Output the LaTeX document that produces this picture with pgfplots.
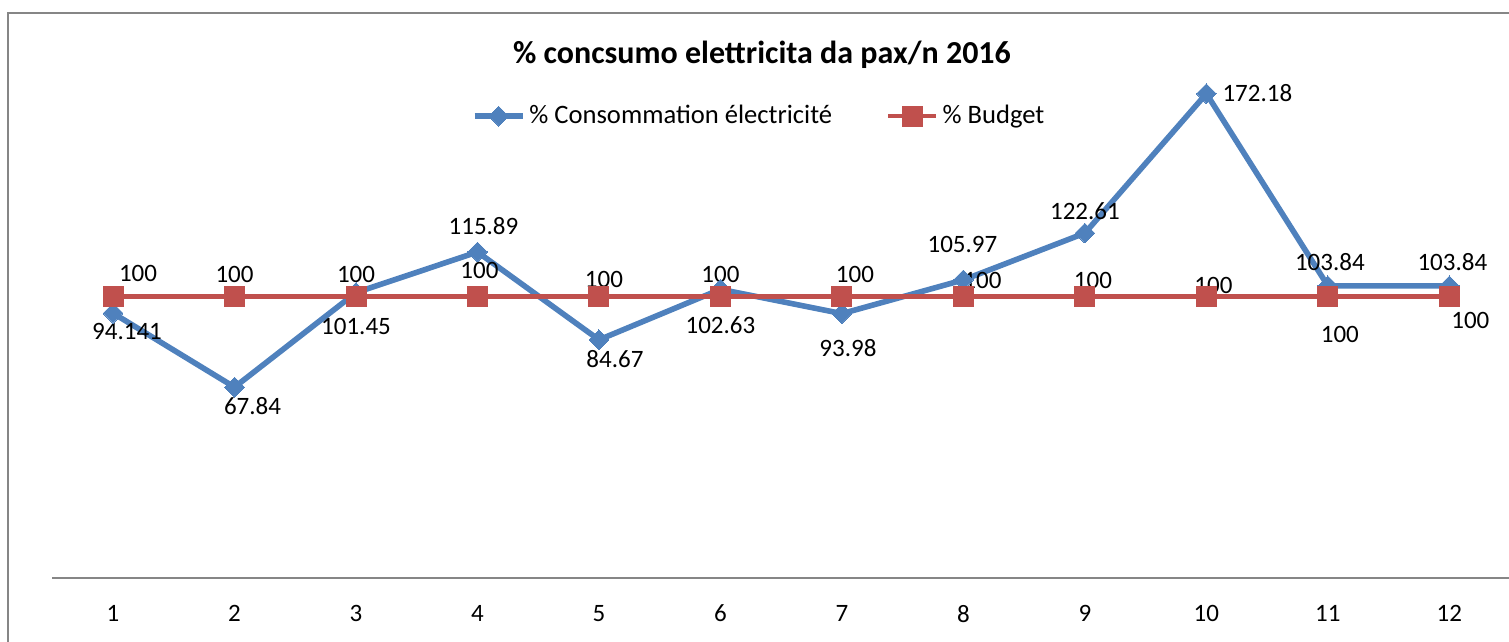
\documentclass[border=0pt]{standalone}
\usepackage{pgfplots}
\pgfplotsset{compat=1.18}
\usepackage{fontspec}
\setmainfont{Carlito}
\definecolor{xblue}{HTML}{4F81BD}
\definecolor{xred}{HTML}{C0504D}
\definecolor{xgray}{HTML}{868686}
\begin{document}
\begin{tikzpicture}
\useasboundingbox (0,0) rectangle (754.5pt,321pt);
\draw[xgray, line width=0.8pt] (4pt,0) -- (4pt,314.5pt) -- (760pt,314.5pt);
\node[font=\fontsize{16}{19}\selectfont\bfseries] at (381pt,293.5pt) {\% concsumo elettricita da pax/n 2016};
\begin{axis}[
  at={(26.15pt,32pt)}, anchor=south west,
  scale only axis, width=728.9pt, height=281.3pt,
  xmin=0.5, xmax=12.5, ymin=0, ymax=200,
  clip=false,
  axis y line=none,
  axis x line*=bottom,
  x axis line style={xgray, line width=0.8pt, -},
  xtick={1,2,3,4,5,6,7,8,9,10,11,12},
  xticklabels={1,2,3,4,5,6,7,8,9,10,11,12},
  major tick length=0pt,
  xticklabel style={font=\fontsize{12.5}{15}\selectfont, yshift=-10pt},
  legend columns=2,
  legend style={draw=none, fill=none, at={(0.4855,0.821)}, anchor=center,
    font=\fontsize{13.3}{16}\selectfont,
    /tikz/every even column/.append style={column sep=25pt},
    inner sep=0pt},
  legend image code/.code={\draw[#1, mark repeat=2, mark phase=2] plot coordinates {(0pt,0pt) (12pt,0pt) (24pt,0pt)};},
]
\addplot[xblue, line width=2.8pt, mark=square*, mark size=3.5pt, mark options={rotate=45, solid, line width=0pt}] coordinates {
(1,94.141) (2,67.84) (3,101.45) (4,115.89) (5,84.67) (6,102.63) (7,93.98) (8,105.97) (9,122.61) (10,172.18) (11,103.84) (12,103.84)};
\addlegendentry{\% Consommation électricité}
\addplot[xred, line width=2.2pt, mark=square*, mark size=5pt, mark options={solid, line width=0pt}] coordinates {
(1,100) (2,100) (3,100) (4,100) (5,100) (6,100) (7,100) (8,100) (9,100) (10,100) (11,100) (12,100)};
\addlegendentry{\% Budget}
\begin{scope}[every node/.style={font=\fontsize{12.5}{15}\selectfont, inner sep=0pt}]
\node[xshift=7pt,yshift=-9pt] at (axis cs:1,94.141) {94.141};
\node[xshift=9pt,yshift=-9.5pt] at (axis cs:2,67.84) {67.84};
\node[xshift=0pt,yshift=-17pt] at (axis cs:3,101.45) {101.45};
\node[xshift=3pt,yshift=13pt] at (axis cs:4,115.89) {115.89};
\node[xshift=8pt,yshift=-9.5pt] at (axis cs:5,84.67) {84.67};
\node[xshift=0pt,yshift=-18pt] at (axis cs:6,102.63) {102.63};
\node[xshift=3pt,yshift=-17pt] at (axis cs:7,93.98) {93.98};
\node[xshift=-0.5pt,yshift=17.5pt] at (axis cs:8,105.97) {105.97};
\node[xshift=0pt,yshift=11pt] at (axis cs:9,122.61) {122.61};
\node[xshift=25.5pt,yshift=0.5pt] at (axis cs:10,172.18) {172.18};
\node[xshift=1pt,yshift=12pt] at (axis cs:11,103.84) {103.84};
\node[xshift=1.5pt,yshift=12pt] at (axis cs:12,103.84) {103.84};
\node[xshift=12.5pt,yshift=11.5pt] at (axis cs:1,100) {100};
\node[xshift=0pt,yshift=11pt] at (axis cs:2,100) {100};
\node[xshift=0pt,yshift=11pt] at (axis cs:3,100) {100};
\node[xshift=1pt,yshift=13pt] at (axis cs:4,100) {100};
\node[xshift=2.5pt,yshift=8.5pt] at (axis cs:5,100) {100};
\node[xshift=0pt,yshift=11pt] at (axis cs:6,100) {100};
\node[xshift=6.5pt,yshift=11pt] at (axis cs:7,100) {100};
\node[xshift=9.5pt,yshift=8pt] at (axis cs:8,100) {100};
\node[xshift=4pt,yshift=8pt] at (axis cs:9,100) {100};
\node[xshift=3.5pt,yshift=5.5pt] at (axis cs:10,100) {100};
\node[xshift=6pt,yshift=-19pt] at (axis cs:11,100) {100};
\node[xshift=10.5pt,yshift=-12pt] at (axis cs:12,100) {100};
\end{scope}
\end{axis}
\end{tikzpicture}
\end{document}
